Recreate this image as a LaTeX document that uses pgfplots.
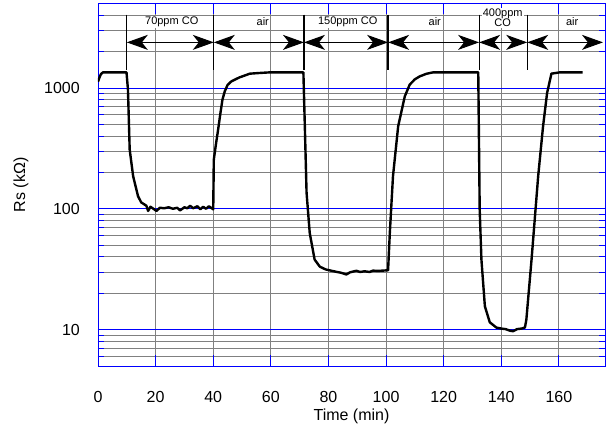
\documentclass[border=0pt]{standalone}
\usepackage{fontspec}
\setmainfont{Liberation Sans}
\usepackage{pgfplots}
\pgfplotsset{compat=1.18}
\usetikzlibrary{arrows.meta}
\definecolor{gridgray}{RGB}{128,128,128}
\begin{document}
\begin{tikzpicture}[x=1pt,y=1pt]
\begin{axis}[
  at={(0,0)}, anchor=south west,
  scale only axis, width=507pt, height=362.5pt,
  xmin=0, xmax=176, ymode=log, ymin=5, ymax=5000,
  xtick={0,20,...,160},
  ytick={10,100,1000}, yticklabels={10,100,1000},
  minor ytick={6,7,8,9,20,30,40,50,60,70,80,90,200,300,400,500,600,700,800,900,2000,3000,4000},
  grid=both,
  major x grid style={gridgray, line width=0.9pt},
  major y grid style={blue, line width=0.9pt},
  minor y grid style={gridgray, line width=0.9pt},
  tick style={blue, line width=0.9pt},
  major tick length=11pt, minor tick length=6pt,
  tickpos=both, tick align=inside,
  axis line style={blue, line width=0.9pt},
  /pgf/number format/assume math mode=true,
  xticklabel style={font=\fontsize{16}{19}\selectfont, inner sep=0pt, anchor=north, yshift=-25pt},
  yticklabel style={font=\fontsize{16}{19}\selectfont, inner sep=0pt, anchor=east, xshift=-18pt},
  xlabel={Time (min)}, ylabel={Rs (kΩ)},
  xlabel style={font=\fontsize{16}{19}\selectfont, at={(axis description cs:0.5,0)}, anchor=north, inner sep=0pt, yshift=-43pt},
  ylabel style={font=\fontsize{16}{19}\selectfont, at={(axis description cs:-0.152,0.5)}, anchor=center, inner sep=0pt},
]
\addplot[black, line width=2.4pt, line join=round] coordinates {
(0,1127) (0.5,1220) (1.0,1300) (1.7,1346) (5,1346) (9.9,1346)
(10.4,968) (11.0,309) (12.2,186) (13.9,127) (15.0,113) (16.8,106)
(17.4,96) (18.2,104) (19,101) (20.3,96) (21.5,102) (23,101) (24.5,103) (26,100) (27.5,102) (28.5,97) (30,103) (31,101) (32,106) (33,101) (34.5,105) (35.5,99) (36.5,104) (37.5,100) (38.5,105) (39.5,101) (40,99)
(40.2,255) (41.0,350) (41.7,452) (42.5,620) (43.2,800) (44,937) (45,1060) (46.3,1134) (49,1220) (52.7,1313) (56,1330) (59.6,1346) (71.3,1346)
(71.8,482) (72.4,136) (73.5,63) (75.2,38) (77,33.2) (79,31.5) (81.6,30.5) (83,30) (84.5,29.5) (86.2,28.6) (87.5,29.8) (89.7,30.7) (91,30) (92.5,30.4) (94.3,30) (95.5,30.8) (97,30.6) (99,30.8) (100.7,31)
(101.3,63) (102.4,186) (104.2,482) (106.5,852) (108.2,1065) (110,1180) (111.7,1247) (114,1310) (116.3,1346) (132,1346)
(132.5,98.6) (133.1,38) (134.3,15.6) (136,11.5) (138.3,10.4) (140,10.2) (141.5,10.1) (143,9.8) (144.1,9.7) (145.5,10.1) (147,10.2) (148.2,10.4) (148.7,12.1)
(150.5,38) (152.8,186) (154.5,482) (155.9,909) (157.4,1313) (160.3,1346) (168.2,1346)
};
% marker lines
\foreach \xx in {10,40.2,71.5,100.7,132.3,149}{
  \edef\tmp{\noexpand\draw[black, line width=1.2pt] (axis cs:\xx,4043) -- (axis cs:\xx,1416);}
  \tmp
}
% arrows
\foreach \a/\b in {10/40.2,40.2/71.5,71.5/100.7,100.7/132.3,132.3/149,149/175.3}{
  \edef\tmp{\noexpand\draw[black, line width=1pt, {Stealth[length=21pt,width=15pt,inset=6pt]}-{Stealth[length=21pt,width=15pt,inset=6pt]}] (axis cs:\a,2384) -- (axis cs:\b,2384);}
  \tmp
}
% labels
\tikzset{lab/.style={fill=white, inner sep=1pt, font=\fontsize{11}{10}\selectfont, align=center}}
\node[lab] at (axis cs:25.6,3537) {70ppm CO};
\node[lab] at (axis cs:57.2,3537) {air};
\node[lab] at (axis cs:86.7,3537) {150ppm CO};
\node[lab] at (axis cs:116.9,3537) {air};
\node[lab] at (axis cs:140.5,3785) {400ppm\\CO};
\node[lab] at (axis cs:164.6,3537) {air};
\end{axis}
\pgfresetboundingbox
\path[use as bounding box] (-98,-63) rectangle (510,366);
\end{tikzpicture}
\end{document}
